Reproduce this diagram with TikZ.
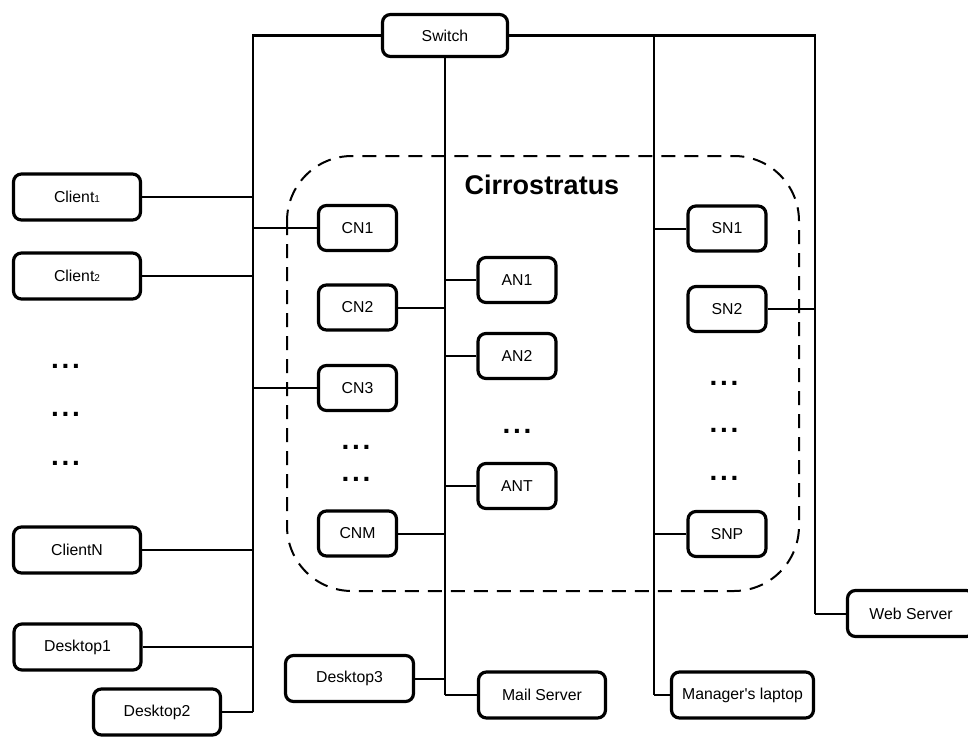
\documentclass[tikz,border=0pt]{standalone}
\usepackage{fontspec}
\setmainfont{Liberation Sans}
\begin{document}
\begin{tikzpicture}[x=1pt,y=-1pt,
  box/.style={draw, line width=3.2pt, rounded corners=8pt, minimum width=127pt, minimum height=46pt, inner sep=0pt, font=\fontsize{15.8}{18}\selectfont, fill=white},
  small/.style={box, minimum width=78pt, minimum height=45pt},
  bus/.style={line width=2.8pt},
  branch/.style={line width=2pt},
  dotsnode/.style={anchor=base, inner sep=0pt, font=\fontsize{28}{28}\selectfont\bfseries},
  cloud/.style={draw, line width=2pt, dash pattern=on 14pt off 9pt, rounded corners=65pt}]
\useasboundingbox (0,0) rectangle (968,736);

% Cirrostratus region
\draw[cloud] (287,156) rectangle (799,591);
\node[anchor=base, inner sep=0pt, font=\fontsize{27}{30}\selectfont\bfseries] (title) at (542,194) {Cirrostratus};

% bus x coordinates
\coordinate (lx) at (253,0);
\coordinate (mx) at (445,0);
\coordinate (r1x) at (654,0);
\coordinate (r2x) at (815,0);

% nodes
\node[box, minimum width=125pt, minimum height=42pt] (sw) at (445,35.5) {Switch};

\node[box] (c1) at (77,197) {Client{\fontsize{10}{10}\selectfont 1}};
\node[box] (c2) at (77,276) {Client{\fontsize{10}{10}\selectfont 2}};
\node[box] (cN) at (77,550) {ClientN};
\node[box] (d1) at (77.5,647) {Desktop1};
\node[box] (d2) at (157,712) {Desktop2};
\node[box, minimum width=128pt] (d3) at (349.5,678.5) {Desktop3};
\node[box] (ms) at (542,695) {Mail Server};
\node[box, minimum width=142pt] (mgr) at (742.5,695) {Manager\textquotesingle s laptop};
\node[box] (web) at (911,613.5) {Web Server};

\node[small] (cn1) at (357.5,228) {CN1};
\node[small] (cn2) at (357.5,307.5) {CN2};
\node[small] (cn3) at (357.5,388) {CN3};
\node[small] (cnm) at (357.5,533.5) {CNM};

\node[small] (an1) at (517,280) {AN1};
\node[small] (an2) at (517,356) {AN2};
\node[small] (ant) at (517,486) {ANT};

\node[small] (sn1) at (727,228.5) {SN1};
\node[small] (sn2) at (727,309) {SN2};
\node[small] (snp) at (727,534) {SNP};

% dots
\node[dotsnode] (ldots1) at (65.5,368) {.\kern2.7pt.\kern2.7pt.};
\node[dotsnode] (ldots2) at (65.5,416) {.\kern2.7pt.\kern2.7pt.};
\node[dotsnode] (ldots3) at (65.5,465) {.\kern2.7pt.\kern2.7pt.};
\node[dotsnode] (cdots1) at (356,449) {.\kern2.7pt.\kern2.7pt.};
\node[dotsnode] (cdots2) at (356,481) {.\kern2.7pt.\kern2.7pt.};
\node[dotsnode] (adots) at (517,433) {.\kern2.7pt.\kern2.7pt.};
\node[dotsnode] (sdots1) at (724,385) {.\kern2.7pt.\kern2.7pt.};
\node[dotsnode] (sdots2) at (724,432) {.\kern2.7pt.\kern2.7pt.};
\node[dotsnode] (sdots3) at (724,480) {.\kern2.7pt.\kern2.7pt.};

% buses
\draw[bus] (sw.west) -| (d2.east -| lx);
\draw[branch] (d2.east -| lx) -- (d2.east);
\draw[bus] (sw.south -| mx) -- (ms.west -| mx);
\draw[branch] (ms.west -| mx) -- (ms.west);
\draw[bus] (sw.east) -| (web.west -| r2x);
\draw[branch] (web.west -| r2x) -- (web.west);
\draw[bus] (sw.east -| r1x) -- (mgr.west -| r1x);
\draw[branch] (mgr.west -| r1x) -- (mgr.west);

% branches to left bus
\draw[branch] (c1.east) -- (c1.east -| lx);
\draw[branch] (c2.east) -- (c2.east -| lx);
\draw[branch] (cN.east) -- (cN.east -| lx);
\draw[branch] (d1.east) -- (d1.east -| lx);
\draw[branch] (cn1.west) -- (cn1.west -| lx);
\draw[branch] (cn3.west) -- (cn3.west -| lx);

% branches to middle bus
\draw[branch] (cn2.east) -- (cn2.east -| mx);
\draw[branch] (cnm.east) -- (cnm.east -| mx);
\draw[branch] (an1.west) -- (an1.west -| mx);
\draw[branch] (an2.west) -- (an2.west -| mx);
\draw[branch] (ant.west) -- (ant.west -| mx);
\draw[branch] (d3.east) -- (d3.east -| mx);

% branches to right buses
\draw[branch] (sn1.west) -- (sn1.west -| r1x);
\draw[branch] (snp.west) -- (snp.west -| r1x);
\draw[branch] (sn2.east) -- (sn2.east -| r2x);
\end{tikzpicture}
\end{document}
